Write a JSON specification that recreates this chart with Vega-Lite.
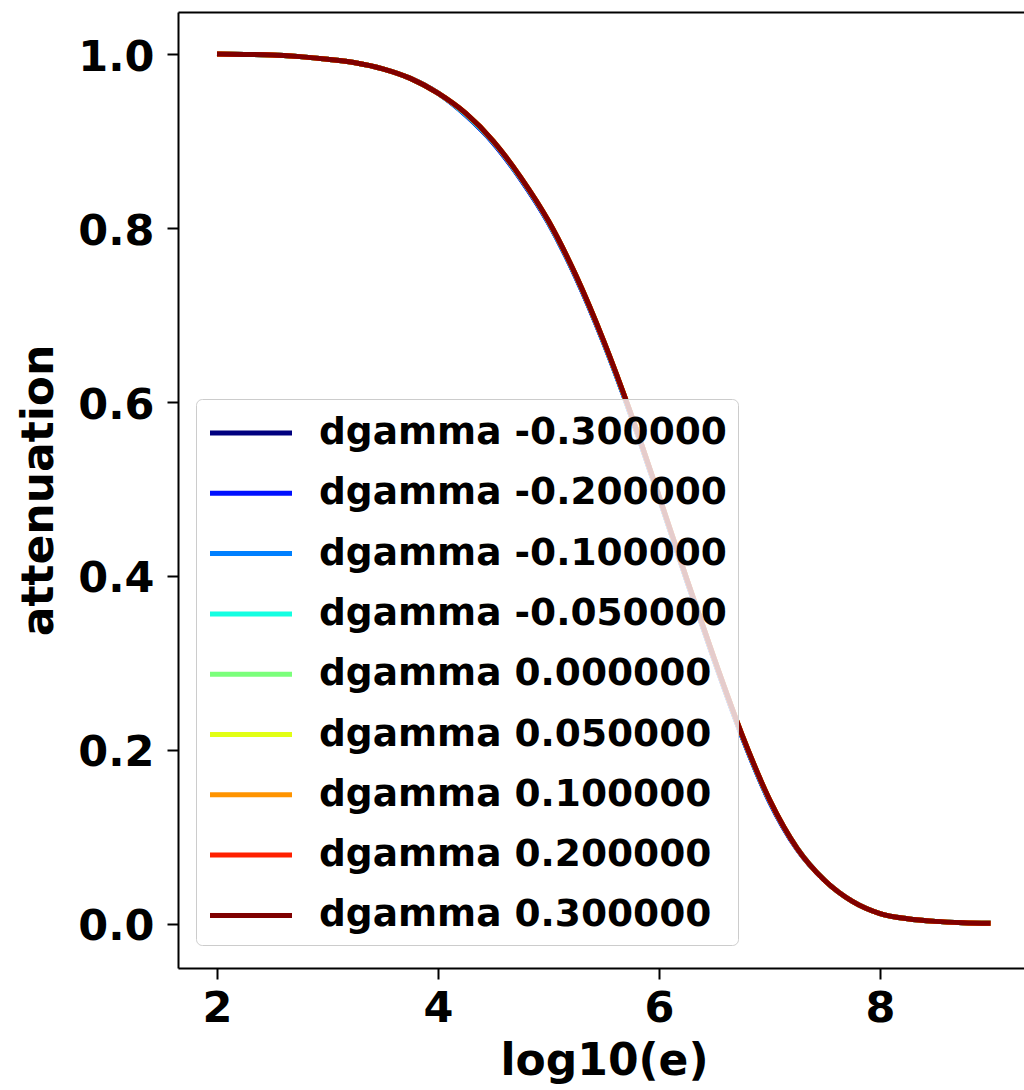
{
  "$schema": "https://vega.github.io/schema/vega-lite/v6.json",
  "width": 846,
  "height": 956,
  "autosize": {"type": "none"},
  "padding": {"left": 178, "top": 12, "right": 0, "bottom": 122},
  "background": "white",
  "config": {"view": {"stroke": null}, "font": "DejaVu Sans"},
  "datasets": {
    "labels": [
      {"k": "n300", "label": "dgamma -0.300000"},
      {"k": "n200", "label": "dgamma -0.200000"},
      {"k": "n100", "label": "dgamma -0.100000"},
      {"k": "n050", "label": "dgamma -0.050000"},
      {"k": "p000", "label": "dgamma 0.000000"},
      {"k": "p050", "label": "dgamma 0.050000"},
      {"k": "p100", "label": "dgamma 0.100000"},
      {"k": "p200", "label": "dgamma 0.200000"},
      {"k": "p300", "label": "dgamma 0.300000"}
    ]
  },
  "data": {"values": [
    {"x": 2.0, "n300": 1.0, "n200": 1.0, "n100": 1.0, "n050": 1.0, "p000": 1.0, "p050": 1.0, "p100": 1.0, "p200": 1.0, "p300": 1.0},
    {"x": 2.25, "n300": 0.9995, "n200": 0.9995, "n100": 0.9995, "n050": 0.9995, "p000": 0.9995, "p050": 0.9995, "p100": 0.9995, "p200": 0.9995, "p300": 0.9995},
    {"x": 2.5, "n300": 0.999, "n200": 0.999, "n100": 0.999, "n050": 0.999, "p000": 0.999, "p050": 0.999, "p100": 0.999, "p200": 0.999, "p300": 0.999},
    {"x": 2.75, "n300": 0.997, "n200": 0.997, "n100": 0.997, "n050": 0.997, "p000": 0.997, "p050": 0.997, "p100": 0.997, "p200": 0.997, "p300": 0.997},
    {"x": 3.0, "n300": 0.994, "n200": 0.994, "n100": 0.994, "n050": 0.994, "p000": 0.994, "p050": 0.994, "p100": 0.994, "p200": 0.994, "p300": 0.994},
    {"x": 3.25, "n300": 0.99, "n200": 0.99, "n100": 0.99, "n050": 0.99, "p000": 0.99, "p050": 0.99, "p100": 0.99, "p200": 0.99, "p300": 0.99},
    {"x": 3.5, "n300": 0.983, "n200": 0.983, "n100": 0.983, "n050": 0.983, "p000": 0.983, "p050": 0.983, "p100": 0.983, "p200": 0.983, "p300": 0.983},
    {"x": 3.75, "n300": 0.972, "n200": 0.972, "n100": 0.972, "n050": 0.972, "p000": 0.972, "p050": 0.972, "p100": 0.972, "p200": 0.972, "p300": 0.972},
    {"x": 4.0, "n300": 0.955, "n200": 0.955, "n100": 0.955, "n050": 0.955, "p000": 0.955, "p050": 0.955, "p100": 0.955, "p200": 0.955, "p300": 0.955},
    {"x": 4.25, "n300": 0.93, "n200": 0.93, "n100": 0.931, "n050": 0.931, "p000": 0.932, "p050": 0.932, "p100": 0.932, "p200": 0.932, "p300": 0.932},
    {"x": 4.5, "n300": 0.898, "n200": 0.898, "n100": 0.899, "n050": 0.899, "p000": 0.9, "p050": 0.9, "p100": 0.9, "p200": 0.9, "p300": 0.9},
    {"x": 4.75, "n300": 0.856, "n200": 0.856, "n100": 0.857, "n050": 0.857, "p000": 0.858, "p050": 0.858, "p100": 0.858, "p200": 0.858, "p300": 0.858},
    {"x": 5.0, "n300": 0.806, "n200": 0.806, "n100": 0.807, "n050": 0.807, "p000": 0.808, "p050": 0.808, "p100": 0.808, "p200": 0.808, "p300": 0.808},
    {"x": 5.25, "n300": 0.743, "n200": 0.743, "n100": 0.744, "n050": 0.744, "p000": 0.745, "p050": 0.745, "p100": 0.745, "p200": 0.745, "p300": 0.745},
    {"x": 5.5, "n300": 0.668, "n200": 0.668, "n100": 0.669, "n050": 0.669, "p000": 0.67, "p050": 0.67, "p100": 0.67, "p200": 0.67, "p300": 0.67},
    {"x": 5.75, "n300": 0.583, "n200": 0.583, "n100": 0.584, "n050": 0.584, "p000": 0.585, "p050": 0.585, "p100": 0.585, "p200": 0.585, "p300": 0.585},
    {"x": 6.0, "n300": 0.49, "n200": 0.49, "n100": 0.491, "n050": 0.491, "p000": 0.492, "p050": 0.492, "p100": 0.492, "p200": 0.492, "p300": 0.492},
    {"x": 6.25, "n300": 0.395, "n200": 0.395, "n100": 0.396, "n050": 0.396, "p000": 0.397, "p050": 0.397, "p100": 0.397, "p200": 0.397, "p300": 0.397},
    {"x": 6.5, "n300": 0.303, "n200": 0.303, "n100": 0.304, "n050": 0.304, "p000": 0.305, "p050": 0.305, "p100": 0.305, "p200": 0.305, "p300": 0.305},
    {"x": 6.75, "n300": 0.216, "n200": 0.216, "n100": 0.217, "n050": 0.217, "p000": 0.218, "p050": 0.218, "p100": 0.218, "p200": 0.218, "p300": 0.218},
    {"x": 7.0, "n300": 0.141, "n200": 0.141, "n100": 0.142, "n050": 0.142, "p000": 0.143, "p050": 0.143, "p100": 0.143, "p200": 0.143, "p300": 0.143},
    {"x": 7.25, "n300": 0.086, "n200": 0.086, "n100": 0.087, "n050": 0.087, "p000": 0.087, "p050": 0.087, "p100": 0.087, "p200": 0.087, "p300": 0.087},
    {"x": 7.5, "n300": 0.05, "n200": 0.05, "n100": 0.05, "n050": 0.05, "p000": 0.05, "p050": 0.05, "p100": 0.05, "p200": 0.05, "p300": 0.05},
    {"x": 7.75, "n300": 0.026, "n200": 0.026, "n100": 0.026, "n050": 0.026, "p000": 0.026, "p050": 0.026, "p100": 0.026, "p200": 0.026, "p300": 0.026},
    {"x": 8.0, "n300": 0.012, "n200": 0.012, "n100": 0.012, "n050": 0.012, "p000": 0.012, "p050": 0.012, "p100": 0.012, "p200": 0.012, "p300": 0.012},
    {"x": 8.25, "n300": 0.006, "n200": 0.006, "n100": 0.006, "n050": 0.006, "p000": 0.006, "p050": 0.006, "p100": 0.006, "p200": 0.006, "p300": 0.006},
    {"x": 8.5, "n300": 0.003, "n200": 0.003, "n100": 0.003, "n050": 0.003, "p000": 0.003, "p050": 0.003, "p100": 0.003, "p200": 0.003, "p300": 0.003},
    {"x": 8.75, "n300": 0.0015, "n200": 0.0015, "n100": 0.0015, "n050": 0.0015, "p000": 0.0015, "p050": 0.0015, "p100": 0.0015, "p200": 0.0015, "p300": 0.0015},
    {"x": 9.0, "n300": 0.0008, "n200": 0.0008, "n100": 0.0008, "n050": 0.0008, "p000": 0.0008, "p050": 0.0008, "p100": 0.0008, "p200": 0.0008, "p300": 0.0008}
  ]},
  "transform": [
    {"fold": ["n300", "n200", "n100", "n050", "p000", "p050", "p100", "p200", "p300"], "as": ["k", "attenuation"]},
    {"lookup": "k", "from": {"data": {"name": "labels"}, "key": "k", "fields": ["label"]}}
  ],
  "layer": [
    {
      "mark": {"type": "line", "strokeWidth": 5, "interpolate": "monotone", "clip": true},
      "encoding": {
        "x": {
          "field": "x", "type": "quantitative",
          "scale": {"domain": [1.647, 9.303], "nice": false, "zero": false},
          "axis": {
            "values": [2, 4, 6, 8], "format": "d", "grid": false,
            "domainColor": "black", "domainWidth": 2,
            "tickColor": "black", "tickWidth": 2, "tickSize": 11,
            "labelFont": "DejaVu Sans", "labelFontWeight": "bold", "labelFontSize": 43, "labelColor": "black", "labelPadding": 8,
            "title": "log10(e)", "titleFont": "DejaVu Sans", "titleFontWeight": "bold", "titleFontSize": 44, "titleColor": "black",
            "titleX": 426, "titleY": 106, "titleBaseline": "alphabetic", "titleAlign": "center"
          }
        },
        "y": {
          "field": "attenuation", "type": "quantitative",
          "scale": {"domain": [-0.0506, 1.0483], "nice": false, "zero": false},
          "axis": {
            "values": [0, 0.2, 0.4, 0.6, 0.8, 1.0], "format": ".1f", "grid": false,
            "domainColor": "black", "domainWidth": 2,
            "tickColor": "black", "tickWidth": 2, "tickSize": 11,
            "labelFont": "DejaVu Sans", "labelFontWeight": "bold", "labelFontSize": 43, "labelColor": "black", "labelPadding": 13, "labelOffset": 3,
            "title": "attenuation", "titleFont": "DejaVu Sans", "titleFontWeight": "bold", "titleFontSize": 44, "titleColor": "black",
            "titleX": -126, "titleBaseline": "alphabetic"
          }
        },
        "color": {
          "field": "label", "type": "nominal",
          "scale": {
            "domain": ["dgamma -0.300000", "dgamma -0.200000", "dgamma -0.100000", "dgamma -0.050000", "dgamma 0.000000", "dgamma 0.050000", "dgamma 0.100000", "dgamma 0.200000", "dgamma 0.300000"],
            "range": ["#00007f", "#0010ff", "#0080ff", "#14ffe2", "#7bff7b", "#e2ff14", "#ff9400", "#ff2000", "#7f0000"]
          },
          "legend": {
            "orient": "none", "legendX": 18, "legendY": 387, "title": null,
            "symbolType": "M-2,0H2", "symbolSize": 1681, "symbolStrokeWidth": 5, "symbolOpacity": 1, "symbolOffset": 21,
            "labelFont": "DejaVu Sans", "labelFontWeight": "bold", "labelFontSize": 37.5, "labelColor": "black",
            "labelOffset": 45, "labelLimit": 1000, "rowPadding": 18.3, "padding": 11,
            "fillColor": "rgba(255,255,255,0.8)", "strokeColor": "#cccccc", "cornerRadius": 6
          }
        }
      }
    },
    {
      "mark": {"type": "line", "opacity": 0},
      "encoding": {
        "x": {
          "field": "x", "type": "quantitative",
          "axis": {"orient": "top", "labels": false, "ticks": false, "title": null, "grid": false, "domainColor": "black", "domainWidth": 2}
        },
        "y": {"field": "attenuation", "type": "quantitative"}
      }
    }
  ],
  "resolve": {"axis": {"x": "independent"}}
}
